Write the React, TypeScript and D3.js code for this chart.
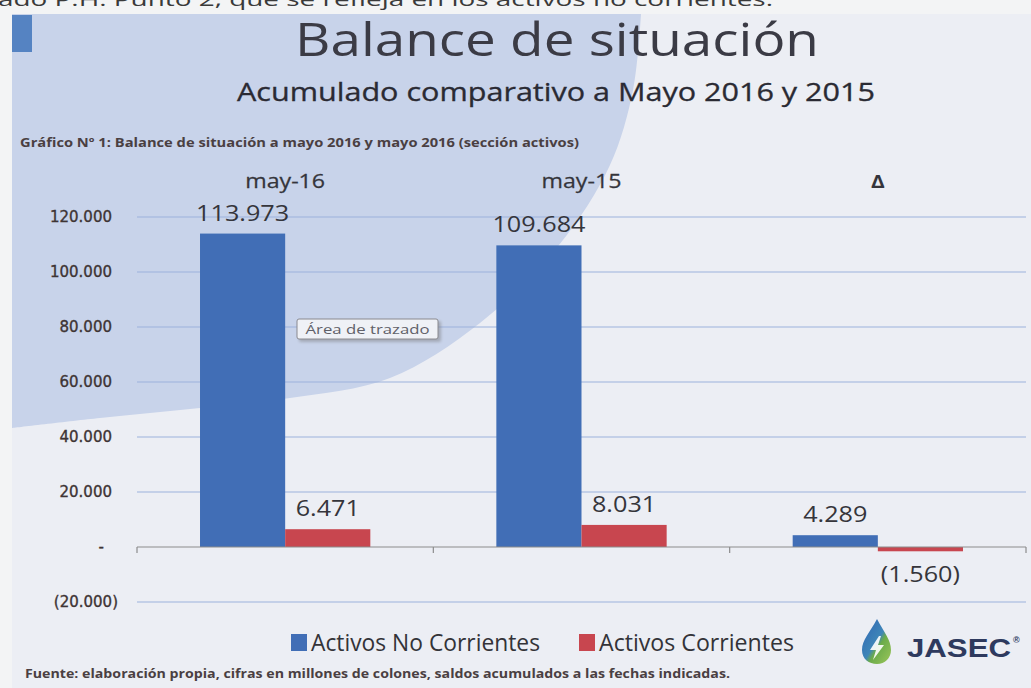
import React from "react";
import * as d3 from "d3";

const categories = ["may-16", "may-15", "Δ"];
const seriesNames = ["Activos No Corrientes", "Activos Corrientes"];
const activosNoCorrientes = [113973, 109684, 4289];
const activosCorrientes = [6471, 8031, -1560];
const yTicks = [-20000, 0, 20000, 40000, 60000, 80000, 100000, 120000];
const seriesColors = ["#416eb6", "#c8464f"];

const W = 1031;
const H = 688;

const locale = d3.formatLocale({ decimal: ",", thousands: ".", grouping: [3], currency: ["", ""] });
const fmtNum = locale.format(",.0f");
const fmt = (v: number) => (v === 0 ? "-" : v < 0 ? `(${fmtNum(-v)})` : fmtNum(v));

const shapePts: [number, number][] = [
  [641, 14], [633, 90], [610, 165], [559, 245], [480, 323], [390, 378], [290, 398], [200, 408], [100, 418], [12, 428],
];

export default function App() {
  const y = d3.scaleLinear().domain([-20000, 120000]).range([602, 217]);
  const x0 = d3.scaleBand<string>().domain(categories).range([137, 1026]).padding(0);
  const x1 = d3.scaleBand<string>().domain(seriesNames).range([0, x0.bandwidth()]).paddingInner(0).paddingOuter(0.74);

  const seriesData = [activosNoCorrientes, activosCorrientes];
  const shapeLine = d3.line().curve(d3.curveCatmullRom.alpha(0.5))(shapePts) || "";
  const shapePath = "M12,14 " + shapeLine.replace(/^M/, "L") + " Z";

  const gridVals = yTicks.filter((t) => t !== 0);
  const calibri = "'Open Sans', 'Noto Sans', sans-serif";
  const textCol = "#35353b";

  return (
    <div>
      <svg width={W} height={H} style={{ position: "absolute", left: 0, top: 0 }} xmlns="http://www.w3.org/2000/svg">
        <defs>
          <linearGradient id="dropGrad" x1="0" y1="0" x2="1" y2="1">
            <stop offset="0" stopColor="#2f64b3" />
            <stop offset="0.5" stopColor="#3f86b8" />
            <stop offset="0.6" stopColor="#6bab4a" />
            <stop offset="1" stopColor="#9cc65a" />
          </linearGradient>
          <filter id="blur2" x="-10%" y="-10%" width="130%" height="150%">
            <feGaussianBlur stdDeviation="1.5" />
          </filter>
        </defs>
        {/* page background */}
        <rect x={0} y={0} width={W} height={H} fill="#f3f4f5" />
        {/* slide background */}
        <rect x={12} y={14} width={W - 12} height={H - 14} fill="#eceef4" />
        <path d={shapePath} fill="#c8d3ea" />
        <rect x={12} y={15} width={20} height={37} fill="#5583c2" />

        {/* cut-off text at top */}
        <text x={-2} y={6} fontFamily={calibri} fontSize={19} fill="#3a3a3a" textLength={775} lengthAdjust="spacingAndGlyphs">
          ado P.H. Punto 2, que se refleja en los activos no corrientes.
        </text>

        {/* titles */}
        <text x={295} y={56} fontFamily={calibri} fontSize={46} fill="#3b3b45" textLength={524} lengthAdjust="spacingAndGlyphs">
          Balance de situación
        </text>
        <text x={237} y={101} fontFamily={calibri} fontSize={25} fill="#2a2a33" stroke="#2a2a33" strokeWidth={0.3} textLength={638} lengthAdjust="spacingAndGlyphs">
          Acumulado comparativo a Mayo 2016 y 2015
        </text>
        <text x={20} y={147} fontFamily={calibri} fontSize={12.5} fontWeight={700} fill="#4a3f42" textLength={559} lengthAdjust="spacingAndGlyphs">
          Gráfico Nº 1: Balance de situación a  mayo 2016 y  mayo 2016 (sección activos)
        </text>

        {/* gridlines */}
        {gridVals.map((t) => (
          <line key={t} x1={137} x2={1026} y1={y(t)} y2={y(t)} stroke="#9cb2dc" strokeWidth={1.2} />
        ))}

        {/* y tick labels */}
        {yTicks.map((t) => (
          <text
            key={t}
            x={t < 0 ? 118 : t === 0 ? 104 : 112}
            y={y(t) + 5}
            textAnchor="end"
            fontFamily="'DejaVu Sans', sans-serif"
            fontSize={15}
            fill="#3e3434"
            stroke="#3e3434"
            strokeWidth={0.35}
          >
            {fmt(t)}
          </text>
        ))}

        {/* category labels */}
        {categories.map((c) => (
          <text
            key={c}
            transform={`translate(${(x0(c) as number) + x0.bandwidth() / 2},188) scale(1.16,1)`}
            textAnchor="middle"
            fontFamily={calibri}
            fontSize={c === "Δ" ? 18 : 20}
            fontWeight={c === "Δ" ? 700 : 400}
            fill={textCol}
            stroke={textCol}
            strokeWidth={c === "Δ" ? 0 : 0.25}
          >
            {c}
          </text>
        ))}

        {/* bars */}
        {categories.map((c, ci) =>
          seriesNames.map((s, si) => {
            const v = seriesData[si][ci];
            const bx = (x0(c) as number) + (x1(s) as number);
            const bw = x1.bandwidth();
            const top = Math.min(y(v), y(0));
            const h = Math.abs(y(v) - y(0));
            const cx = bx + bw / 2;
            const ly = v >= 0 ? y(v) - 13 : y(v) + 31;
            return (
              <g key={c + s}>
                <rect x={bx} y={top} width={bw} height={h} fill={seriesColors[si]} />
                <text
                  transform={`translate(${cx},${ly}) scale(1.2,1)`}
                  textAnchor="middle"
                  fontFamily={calibri}
                  fontSize={21}
                  fill={textCol}
                >
                  {fmt(v)}
                </text>
              </g>
            );
          })
        )}

        {/* zero axis with ticks */}
        <line x1={137} x2={1026} y1={y(0)} y2={y(0)} stroke="#8c8c8c" strokeWidth={1.2} />
        {[...categories.map((c) => x0(c) as number), 1026].map((tx, i) => (
          <line key={i} x1={tx} x2={tx} y1={y(0)} y2={y(0) + 6} stroke="#8c8c8c" strokeWidth={1.2} />
        ))}

        {/* Área de trazado tooltip */}
        <rect x={299} y={321} width={142} height={21} rx={2} fill="#777" opacity={0.45} filter="url(#blur2)" />
        <rect x={297} y={319} width={141} height={20} rx={2} fill="#eff1f6" stroke="#8a8a90" strokeWidth={1} />
        <text x={367.5} y={334} textAnchor="middle" fontFamily={calibri} fontSize={13.5} fill="#606068" textLength={124} lengthAdjust="spacingAndGlyphs">
          Área de trazado
        </text>

        {/* legend */}
        {seriesNames.map((s, i) => {
          const lx = i === 0 ? 291 : 579;
          const tw = i === 0 ? 229 : 195;
          return (
            <g key={s}>
              <rect x={lx} y={634} width={16} height={17} fill={seriesColors[i]} />
              <text x={lx + 20} y={651} fontFamily={calibri} fontSize={23} fill="#333338" textLength={tw} lengthAdjust="spacingAndGlyphs">
                {s}
              </text>
            </g>
          );
        })}

        {/* JASEC logo */}
        <g>
          <path d="M877,619 C870,632 862,640 862,650 C862,659 869,664 877,664 C885,664 891,658 891,650 C891,640 884,632 877,619 Z" fill="url(#dropGrad)" />
          <path d="M879,636 L870,650 L876,650 L873,660 L884,645 L878,645 L881,636 Z" fill="#ffffff" opacity={0.9} />
          <text x={907} y={657} fontFamily="'Liberation Sans', Arial, sans-serif" fontWeight={700} fontSize={26} fill="#2e3a5e" textLength={104} lengthAdjust="spacingAndGlyphs">
            JASEC
          </text>
          <text x={1013} y={643} fontFamily="'Liberation Sans', Arial, sans-serif" fontWeight={700} fontSize={9} fill="#2e3a5e">
            ®
          </text>
        </g>

        {/* footer */}
        <text x={25} y={678} fontFamily={calibri} fontSize={12.5} fontWeight={700} fill="#4a3f42" textLength={705} lengthAdjust="spacingAndGlyphs">
          Fuente: elaboración propia, cifras en millones de colones, saldos acumulados a las fechas indicadas.
        </text>
      </svg>
    </div>
  );
}
